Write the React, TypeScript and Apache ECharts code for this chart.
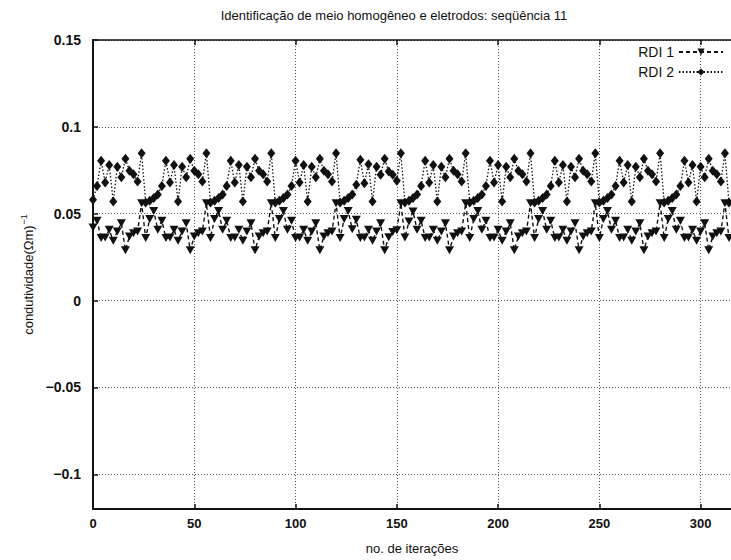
import React, { useEffect, useRef } from "react";
import * as echarts from "echarts";

const FONT = '"Liberation Sans", Arial, Helvetica, sans-serif';

const titulo = "Identificação de meio homogêneo e eletrodos: seqüência 11";
const nomeEixoX = "no. de iterações";
const nomeSeries = ["RDI 1", "RDI 2"];

// samples are taken every 2 iterations
const passo = 2;

// RDI 1: one row per 32 iterations
const rdi1: number[] = [
  0.042, 0.046, 0.036, 0.0363, 0.0407, 0.0345, 0.0397, 0.0445, 0.029, 0.0369, 0.0388, 0.0397, 0.056, 0.036, 0.047, 0.0515,
  0.0407, 0.046, 0.036, 0.0363, 0.0407, 0.0345, 0.0397, 0.0445, 0.029, 0.0369, 0.0388, 0.0397, 0.056, 0.036, 0.047, 0.0515,
  0.0407, 0.046, 0.036, 0.0363, 0.0407, 0.0345, 0.0397, 0.0445, 0.029, 0.0369, 0.0388, 0.0397, 0.056, 0.036, 0.047, 0.0515,
  0.0407, 0.046, 0.036, 0.0363, 0.0407, 0.0345, 0.0397, 0.0445, 0.029, 0.0369, 0.0388, 0.0397, 0.056, 0.036, 0.047, 0.0515,
  0.0410, 0.0465, 0.036, 0.0363, 0.0407, 0.0344, 0.0397, 0.0445, 0.029, 0.0365, 0.0395, 0.0405, 0.056, 0.0363, 0.0455, 0.0513,
  0.0407, 0.046, 0.036, 0.0363, 0.0407, 0.0345, 0.0397, 0.0445, 0.029, 0.0369, 0.0388, 0.0397, 0.056, 0.036, 0.047, 0.0515,
  0.0407, 0.046, 0.036, 0.0363, 0.0407, 0.0345, 0.0397, 0.0445, 0.029, 0.0369, 0.0388, 0.0397, 0.056, 0.036, 0.047, 0.0515,
  0.0407, 0.046, 0.036, 0.0363, 0.0407, 0.0345, 0.0397, 0.0445, 0.029, 0.0369, 0.0388, 0.0397, 0.056, 0.036, 0.047, 0.0515,
  0.0407, 0.046, 0.036, 0.0363, 0.0407, 0.0345, 0.0397, 0.0445, 0.029, 0.0369, 0.0388, 0.0397, 0.056, 0.036, 0.047, 0.0515,
  0.0407, 0.046, 0.036, 0.0363, 0.0407, 0.0345, 0.0397, 0.0445, 0.029, 0.0369, 0.0388, 0.0397, 0.056, 0.036,
];

// RDI 2: one row per 32 iterations
const rdi2: number[] = [
  0.058, 0.066, 0.0805, 0.068, 0.078, 0.057, 0.077, 0.071, 0.0816, 0.0747, 0.0727, 0.0685, 0.0848, 0.0565, 0.0574, 0.059,
  0.061, 0.066, 0.0805, 0.068, 0.078, 0.057, 0.077, 0.071, 0.0816, 0.0747, 0.0727, 0.0685, 0.0848, 0.0565, 0.0574, 0.059,
  0.061, 0.066, 0.0805, 0.068, 0.078, 0.057, 0.077, 0.071, 0.0816, 0.0747, 0.0727, 0.0685, 0.0848, 0.0565, 0.0574, 0.059,
  0.061, 0.066, 0.0805, 0.068, 0.078, 0.057, 0.077, 0.071, 0.0816, 0.0747, 0.0727, 0.0685, 0.0848, 0.0565, 0.0574, 0.059,
  0.061, 0.0666, 0.081, 0.0676, 0.0785, 0.057, 0.077, 0.0724, 0.0816, 0.0743, 0.0724, 0.069, 0.0848, 0.0565, 0.0574, 0.059,
  0.061, 0.066, 0.0805, 0.068, 0.078, 0.057, 0.077, 0.071, 0.0816, 0.0747, 0.0727, 0.0685, 0.0848, 0.0565, 0.0574, 0.059,
  0.061, 0.066, 0.0805, 0.068, 0.078, 0.057, 0.077, 0.071, 0.0816, 0.0747, 0.0727, 0.0685, 0.0848, 0.0565, 0.0574, 0.059,
  0.061, 0.066, 0.0805, 0.068, 0.078, 0.057, 0.077, 0.071, 0.0816, 0.0747, 0.0727, 0.0685, 0.0848, 0.0565, 0.0574, 0.059,
  0.061, 0.066, 0.0805, 0.068, 0.078, 0.057, 0.077, 0.071, 0.0816, 0.0747, 0.0727, 0.0685, 0.0848, 0.0565, 0.0574, 0.059,
  0.061, 0.066, 0.0805, 0.068, 0.078, 0.057, 0.077, 0.071, 0.0816, 0.0747, 0.0727, 0.0685, 0.0848, 0.0565,
];

const xTicks = [0, 50, 100, 150, 200, 250, 300];
const yTicks = [-0.1, -0.05, 0, 0.05, 0.1, 0.15];
const yTickLabels = ["\u22120.1", "\u22120.05", "0", "0.05", "0.1", "0.15"];

const INK = "#111";

export default function App() {
  const ref = useRef<HTMLDivElement>(null);

  useEffect(() => {
    if (!ref.current) return;
    const chart = echarts.init(ref.current, undefined, { renderer: "svg" });

    const axisLineStyle = { color: INK, width: 2 };
    const tickStyle = { color: INK, width: 1.5 };
    const gridStyle = { type: [1, 2], color: "#555", width: 1 };

    chart.setOption({
      animation: false,
      backgroundColor: "#fff",
      textStyle: { fontFamily: FONT },
      grid: { left: 93, right: 0, top: 40, bottom: 50, containLabel: false },
      graphic: [
        {
          type: "text",
          x: 394,
          y: 15,
          style: {
            text: titulo,
            textAlign: "center",
            textVerticalAlign: "middle",
            fontSize: 13,
            fontFamily: FONT,
            fill: INK,
          },
        },
      ],
      legend: {
        orient: "vertical",
        right: 2,
        top: 40,
        align: "right",
        itemWidth: 44,
        itemHeight: 9,
        itemGap: 6,
        textStyle: { fontSize: 14, color: INK, fontFamily: FONT },
        data: nomeSeries,
      },
      xAxis: [
        {
          type: "value",
          min: 0,
          max: 315,
          position: "bottom",
          axisLine: { show: true, onZero: false, lineStyle: axisLineStyle },
          axisTick: { show: true, inside: true, length: 5, customValues: xTicks, lineStyle: tickStyle },
          axisLabel: { customValues: xTicks, fontSize: 13, fontWeight: "bold", color: INK, margin: 8, fontFamily: FONT },
          splitLine: { show: true, lineStyle: gridStyle },
          name: nomeEixoX,
          nameLocation: "middle",
          nameGap: 33,
          nameTextStyle: { fontSize: 13, color: INK, fontFamily: FONT },
        },
        {
          type: "value",
          min: 0,
          max: 315,
          position: "top",
          axisLine: { show: true, onZero: false, lineStyle: { color: INK, width: 1.5 } },
          axisTick: { show: true, inside: true, length: 5, customValues: xTicks, lineStyle: tickStyle },
          axisLabel: { show: false },
          splitLine: { show: false },
        },
      ],
      yAxis: {
        type: "value",
        min: -0.12,
        max: 0.15,
        axisLine: { show: true, onZero: false, lineStyle: axisLineStyle },
        axisTick: { show: true, inside: true, length: 5, customValues: yTicks, lineStyle: tickStyle },
        axisLabel: {
          customValues: yTicks,
          fontSize: 14,
          fontWeight: "bold",
          color: INK,
          margin: 12,
          fontFamily: FONT,
          formatter: (v: number) => {
            const i = yTicks.findIndex((t) => Math.abs(t - v) < 1e-9);
            return i >= 0 ? yTickLabels[i] : "";
          },
        },
        splitLine: { show: true, lineStyle: gridStyle },
        name: "{a|condutividade(\u03A9m)}{s|\u22121}",
        nameLocation: "middle",
        nameGap: 44,
        nameTextStyle: {
          fontFamily: FONT,
          color: INK,
          rich: {
            a: { fontSize: 13, lineHeight: 18, color: INK, fontFamily: FONT },
            s: { fontSize: 9, lineHeight: 18, color: INK, fontFamily: FONT, verticalAlign: "top", padding: [0, 0, 0, 1] },
          },
        },
      },
      series: [
        {
          name: nomeSeries[0],
          type: "line",
          data: rdi1.map((v, i) => [i * passo, v]),
          symbol: "triangle",
          symbolRotate: 180,
          symbolSize: [9, 8],
          showAllSymbol: true,
          lineStyle: { color: INK, width: 1.4, type: [4, 3] },
          itemStyle: { color: INK },
          z: 3,
        },
        {
          name: nomeSeries[1],
          type: "line",
          data: rdi2.map((v, i) => [i * passo, v]),
          symbol: "diamond",
          symbolSize: [8, 10],
          showAllSymbol: true,
          lineStyle: { color: INK, width: 1.3, type: [1.5, 2] },
          itemStyle: { color: INK },
          z: 3,
        },
      ],
    });

    return () => chart.dispose();
  }, []);

  return (
    <div
      ref={ref}
      style={{ position: "absolute", left: 0, top: 0, width: 731, height: 560, background: "#fff" }}
    />
  );
}
